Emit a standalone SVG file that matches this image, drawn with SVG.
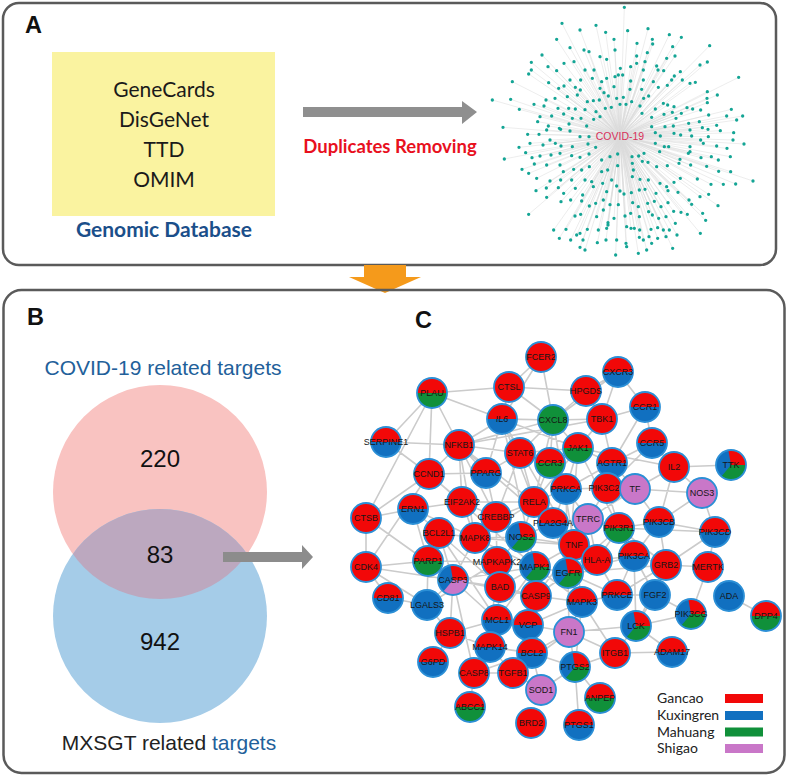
<svg xmlns="http://www.w3.org/2000/svg" xmlns:xlink="http://www.w3.org/1999/xlink" width="789" height="778" viewBox="0 0 789 778">
<style>
.frame{fill:none;stroke:#5a5a5a;stroke-width:2.5}
.lbl{font-family:"Liberation Sans",Arial,sans-serif;font-weight:bold;font-size:23.5px;fill:#111}
.db{font-family:Lato,"Open Sans",sans-serif;font-size:21px;fill:#1a1a1a;text-anchor:middle}
.edge{stroke:#cbcbcb;stroke-width:1.6;fill:none}
.bd{fill:none;stroke:#2b8fd6;stroke-width:1.8}
.node text{font-family:"Liberation Sans",Arial,sans-serif;font-size:9px;fill:#161616;text-anchor:middle}
.venn{font-family:"Liberation Sans",Arial,sans-serif;text-anchor:middle}
.leg{font-family:Lato,"Open Sans",sans-serif;font-size:14px;fill:#222}
.R{fill:#f20808}.B{fill:#1170c0}.G{fill:#10903a}.P{fill:#c977c8}
</style>
<defs>
<g id="r"><circle r="15" class="R"/><circle r="15" class="bd"/></g>
<g id="b"><circle r="15" class="B"/><circle r="15" class="bd"/></g>
<g id="g"><circle r="15" class="G"/><circle r="15" class="bd"/></g>
<g id="p"><circle r="15" class="P"/><circle r="15" class="bd"/></g>
<g id="rb"><circle r="15" class="B"/><path d="M-15 0A15 15 0 0 1 15 0Z" class="R"/><circle r="15" class="bd"/></g>
<g id="rg"><circle r="15" class="G"/><path d="M-15 0A15 15 0 0 1 15 0Z" class="R"/><circle r="15" class="bd"/></g>
<g id="brg"><circle r="15" class="B"/><path d="M0 0L15 0A15 15 0 0 0 -2.6 -14.77Z" class="R"/><path d="M0 0L15 0A15 15 0 0 1 -9.64 11.49Z" class="G"/><circle r="15" class="bd"/></g>
<g id="brp"><circle r="15" class="B"/><path d="M0 0L15 0A15 15 0 0 0 -2.6 -14.77Z" class="R"/><path d="M0 0L15 0A15 15 0 0 1 -9.64 11.49Z" class="P"/><circle r="15" class="bd"/></g>
<clipPath id="blueClip"><circle cx="160" cy="616" r="107"/></clipPath>
</defs>
<rect width="789" height="778" fill="#fff"/>

<!-- Panel A -->
<g id="panelA">
<rect class="frame" x="3" y="3" width="773" height="262" rx="16"/>
<text class="lbl" x="25" y="33">A</text>
<g id="genomicDatabase">
<rect x="52" y="52" width="223" height="164" fill="#faf3a0"/>
<text class="db" x="164" y="97">GeneCards</text>
<text class="db" x="164" y="127">DisGeNet</text>
<text class="db" x="164" y="157">TTD</text>
<text class="db" x="164" y="187">OMIM</text>
<text class="db" x="164" y="237" style="font-weight:bold;fill:#1b4f8a">Genomic Database</text>
</g>
<g id="arrowA">
<polygon points="303,107 462,107 462,101 477,112 462,124 462,117 303,117" fill="#8f8f8f"/>
<text x="390" y="153" style="font-family:Lato,'Open Sans',sans-serif;font-weight:bold;font-size:18.5px;fill:#e8101e;text-anchor:middle">Duplicates Removing</text>
</g>
<g id="covidNetwork">
<g transform="translate(470 0) scale(0.33333)">
<path fill="none" stroke="#dadada" stroke-width="1.5" d="M450 409L463 22M450 409L276 70M450 409L378 76M450 409L534 86M450 409L330 90M450 409L407 97M450 409L473 92M450 409L598 104M450 409L634 112M450 409L260 118M450 409L432 118M450 409L547 118M450 409L719 137M450 409L501 130M450 409L342 150M450 409L357 155M450 409L300 143M450 409L435 150M450 409L548 132M450 409L608 140M450 409L216 165M450 409L184 187M450 409L282 190M450 409L312 185M450 409L390 170M450 409L410 178M450 409L500 168M450 409L532 158M450 409L525 185M450 409L560 198M450 409L590 175M450 409L615 168M450 409L690 195M450 409L712 186M450 409L184 210M450 409L176 222M450 409L234 200M450 409L260 212M450 409L345 210M450 409L372 210M450 409L451 205M450 409L482 200M450 409L500 190M450 409L520 210M450 409L564 210M450 409L581 212M450 409L631 215M450 409L127 245M450 409L236 248M450 409L300 240M450 409L332 240M450 409L367 235M450 409L395 245M450 409L410 235M450 409L435 230M450 409L445 225M450 409L458 225M450 409L482 243M450 409L520 240M450 409L550 245M450 409L605 240M450 409L613 228M450 409L637 240M450 409L660 250M450 409L676 247M450 409L806 232M450 409L266 265M450 409L282 258M450 409L316 262M450 409L331 270M450 409L390 265M450 409L402 278M450 409L432 260M450 409L480 268M450 409L515 268M450 409L565 262M450 409L592 256M450 409L712 275M450 409L742 285M450 409L67 300M450 409L122 298M450 409L192 313M450 409L228 300M450 409L255 295M450 409L292 290M450 409L322 285M450 409L352 305M450 409L370 302M450 409L388 300M450 409L415 288M450 409L440 295M450 409L460 292M450 409L485 305M450 409L521 295M450 409L536 288M450 409L580 310M450 409L593 315M450 409L612 320M450 409L651 323M450 409L668 327M450 409L692 330M450 409L711 295M450 409L712 308M450 409L148 328M450 409L222 318M450 409L264 325M450 409L296 325M450 409L316 327M450 409L345 329M450 409L378 335M450 409L406 325M450 409L424 322M450 409L450 313M450 409L468 313M450 409L510 318M450 409L556 327M450 409L607 337M450 409L784 328M450 409L818 348M450 409L99 382M450 409L210 350M450 409L245 348M450 409L281 342M450 409L307 355M450 409L333 355M450 409L371 358M450 409L390 350M450 409L516 340M450 409L545 352M450 409L582 343M450 409L618 355M450 409L634 340M450 409L656 370M450 409L688 365M450 409L716 345M450 409L770 348M450 409L203 365M450 409L235 378M450 409L268 385M450 409L297 372M450 409L350 378M450 409L545 380M450 409L585 380M450 409L610 378M450 409L632 405M450 409L660 390M450 409L697 383M450 409L714 388M450 409L740 376M450 409L800 360M450 409L173 403M450 409L207 403M450 409L230 390M450 409L272 388M450 409L300 393M450 409L330 410M450 409L357 410M450 409L556 398M450 409L571 408M450 409L612 400M450 409L665 408M450 409L692 420M450 409L715 410M450 409L751 392M450 409L791 398M450 409L789 420M450 409L822 432M450 409L147 442M450 409L180 430M450 409L219 435M450 409L240 420M450 409L256 430M450 409L273 438M450 409L307 440M450 409L354 432M450 409L377 442M450 409L556 430M450 409L583 440M450 409L660 440M450 409L660 455M450 409L700 430M450 409L740 438M450 409L771 445M450 409L103 477M450 409L167 458M450 409L186 473M450 409L210 468M450 409L243 465M450 409L270 460M450 409L305 467M450 409L330 472M450 409L357 462M450 409L395 480M450 409L420 470M450 409L443 462M450 409L486 470M450 409L506 468M450 409L522 460M450 409L569 455M450 409L596 440M450 409L630 478M450 409L655 460M450 409L693 473M450 409L724 470M450 409L745 480M450 409L781 470M450 409L156 508M450 409L193 492M450 409L230 495M450 409L270 495M450 409L280 515M450 409L311 508M450 409L335 510M450 409L358 500M450 409L395 515M450 409L413 510M450 409L443 497M450 409L487 490M450 409L490 510M450 409L517 484M450 409L534 487M450 409L560 500M450 409L592 497M450 409L627 490M450 409L662 495M450 409L710 499M450 409L746 514M450 409L782 515M450 409L176 520M450 409L200 535M450 409L240 543M450 409L272 540M450 409L305 540M450 409L345 540M450 409L365 545M450 409L398 550M450 409L425 540M450 409L440 558M450 409L487 530M450 409L510 538M450 409L535 540M450 409L570 550M450 409L590 560M450 409L612 547M450 409L631 535M450 409L682 537M450 409L723 553M450 409L760 553M450 409L797 552M450 409L849 543M450 409L198 572M450 409L229 564M450 409L265 563M450 409L281 580M450 409L316 565M450 409L338 585M450 409L370 560M450 409L410 575M450 409L450 573M450 409L462 582M450 409L484 578M450 409L508 570M450 409L525 568M450 409L558 580M450 409L594 572M450 409L624 577M450 409L657 600M450 409L665 613M450 409L690 590M450 409L716 583M450 409L744 617M450 409L176 643M450 409L230 592M450 409L273 605M450 409L302 600M450 409L335 603M450 409L358 618M450 409L377 610M450 409L400 600M450 409L400 630M450 409L420 614M450 409L445 614M450 409L488 608M450 409L505 620M450 409L533 610M450 409L553 604M450 409L573 620M450 409L594 608M450 409L611 634M450 409L633 637M450 409L652 643M450 409L698 640M450 409L707 661M450 409L315 648M450 409L332 643M450 409L380 650M450 409L414 668M450 409L432 655M450 409L465 648M450 409L482 640M450 409L508 650M450 409L536 635M450 409L547 645M450 409L566 655M450 409L588 650M450 409L616 670M450 409L251 690M450 409L288 688M450 409L330 700M450 409L352 688M450 409L385 690M450 409L410 685M450 409L414 675M450 409L470 680M450 409L483 685M450 409L493 685M450 409L509 690M450 409L543 688M450 409L563 683M450 409L580 690M450 409L598 690M450 409L621 705M450 409L691 700M450 409L268 715M450 409L302 720M450 409L320 705M450 409L339 720M450 409L382 728M450 409L408 720M450 409L440 720M450 409L468 730M450 409L508 712M450 409L520 720M450 409L537 710M450 409L563 715M450 409L588 710M450 409L330 742M450 409L345 750M450 409L437 765M450 409L470 740M450 409L505 760M450 409L530 750M450 409L545 730M450 409L608 745"/>
<path fill="none" stroke="#14a595" stroke-width="10" stroke-linecap="round" d="M463 22h0M276 70h0M378 76h0M534 86h0M330 90h0M407 97h0M473 92h0M598 104h0M634 112h0M260 118h0M432 118h0M547 118h0M719 137h0M501 130h0M342 150h0M357 155h0M300 143h0M435 150h0M548 132h0M608 140h0M216 165h0M184 187h0M282 190h0M312 185h0M390 170h0M410 178h0M500 168h0M532 158h0M525 185h0M560 198h0M590 175h0M615 168h0M690 195h0M712 186h0M184 210h0M176 222h0M234 200h0M260 212h0M345 210h0M372 210h0M451 205h0M482 200h0M500 190h0M520 210h0M564 210h0M581 212h0M631 215h0M127 245h0M236 248h0M300 240h0M332 240h0M367 235h0M395 245h0M410 235h0M435 230h0M445 225h0M458 225h0M482 243h0M520 240h0M550 245h0M605 240h0M613 228h0M637 240h0M660 250h0M676 247h0M806 232h0M266 265h0M282 258h0M316 262h0M331 270h0M390 265h0M402 278h0M432 260h0M480 268h0M515 268h0M565 262h0M592 256h0M712 275h0M742 285h0M67 300h0M122 298h0M192 313h0M228 300h0M255 295h0M292 290h0M322 285h0M352 305h0M370 302h0M388 300h0M415 288h0M440 295h0M460 292h0M485 305h0M521 295h0M536 288h0M580 310h0M593 315h0M612 320h0M651 323h0M668 327h0M692 330h0M711 295h0M712 308h0M148 328h0M222 318h0M264 325h0M296 325h0M316 327h0M345 329h0M378 335h0M406 325h0M424 322h0M450 313h0M468 313h0M510 318h0M556 327h0M607 337h0M784 328h0M818 348h0M99 382h0M210 350h0M245 348h0M281 342h0M307 355h0M333 355h0M371 358h0M390 350h0M516 340h0M545 352h0M582 343h0M618 355h0M634 340h0M656 370h0M688 365h0M716 345h0M770 348h0M203 365h0M235 378h0M268 385h0M297 372h0M350 378h0M545 380h0M585 380h0M610 378h0M632 405h0M660 390h0M697 383h0M714 388h0M740 376h0M800 360h0M173 403h0M207 403h0M230 390h0M272 388h0M300 393h0M330 410h0M357 410h0M556 398h0M571 408h0M612 400h0M665 408h0M692 420h0M715 410h0M751 392h0M791 398h0M789 420h0M822 432h0M147 442h0M180 430h0M219 435h0M240 420h0M256 430h0M273 438h0M307 440h0M354 432h0M377 442h0M556 430h0M583 440h0M660 440h0M660 455h0M700 430h0M740 438h0M771 445h0M103 477h0M167 458h0M186 473h0M210 468h0M243 465h0M270 460h0M305 467h0M330 472h0M357 462h0M395 480h0M420 470h0M443 462h0M486 470h0M506 468h0M522 460h0M569 455h0M596 440h0M630 478h0M655 460h0M693 473h0M724 470h0M745 480h0M781 470h0M156 508h0M193 492h0M230 495h0M270 495h0M280 515h0M311 508h0M335 510h0M358 500h0M395 515h0M413 510h0M443 497h0M487 490h0M490 510h0M517 484h0M534 487h0M560 500h0M592 497h0M627 490h0M662 495h0M710 499h0M746 514h0M782 515h0M176 520h0M200 535h0M240 543h0M272 540h0M305 540h0M345 540h0M365 545h0M398 550h0M425 540h0M440 558h0M487 530h0M510 538h0M535 540h0M570 550h0M590 560h0M612 547h0M631 535h0M682 537h0M723 553h0M760 553h0M797 552h0M849 543h0M198 572h0M229 564h0M265 563h0M281 580h0M316 565h0M338 585h0M370 560h0M410 575h0M450 573h0M462 582h0M484 578h0M508 570h0M525 568h0M558 580h0M594 572h0M624 577h0M657 600h0M665 613h0M690 590h0M716 583h0M744 617h0M176 643h0M230 592h0M273 605h0M302 600h0M335 603h0M358 618h0M377 610h0M400 600h0M400 630h0M420 614h0M445 614h0M488 608h0M505 620h0M533 610h0M553 604h0M573 620h0M594 608h0M611 634h0M633 637h0M652 643h0M698 640h0M707 661h0M315 648h0M332 643h0M380 650h0M414 668h0M432 655h0M465 648h0M482 640h0M508 650h0M536 635h0M547 645h0M566 655h0M588 650h0M616 670h0M251 690h0M288 688h0M330 700h0M352 688h0M385 690h0M410 685h0M414 675h0M470 680h0M483 685h0M493 685h0M509 690h0M543 688h0M563 683h0M580 690h0M598 690h0M621 705h0M691 700h0M268 715h0M302 720h0M320 705h0M339 720h0M382 728h0M408 720h0M440 720h0M468 730h0M508 712h0M520 720h0M537 710h0M563 715h0M588 710h0M330 742h0M345 750h0M437 765h0M470 740h0M505 760h0M530 750h0M545 730h0M608 745h0"/>
</g>
<text x="620" y="140" style="font-family:'Liberation Sans',Arial,sans-serif;font-size:10.5px;fill:#d8305a;text-anchor:middle">COVID-19</text>
</g>
</g>

<!-- Orange connector between panels -->
<polygon id="arrowAB" points="364,265 406,265 406,277 421,277 385,293 349,277 364,277" fill="#f59a1b"/>

<!-- Panel B and C frame -->
<rect class="frame" x="3.5" y="290" width="781" height="483" rx="18"/>

<!-- Panel B -->
<g id="panelB">
<text class="lbl" x="27" y="325">B</text>
<text class="venn" x="163" y="375" style="font-size:21px;fill:#22609a">COVID-19 related targets</text>
<g id="vennCovid"><circle cx="160" cy="492" r="107" fill="#f9c3c1"/></g>
<g id="vennMxsgt"><circle cx="160" cy="616" r="107" fill="#a5cce8"/>
<circle cx="160" cy="492" r="107" fill="#bca8bf" clip-path="url(#blueClip)"/></g>
<text class="venn" x="160" y="467" style="font-size:24px;fill:#111">220</text>
<text class="venn" x="160" y="563" style="font-size:24px;fill:#111">83</text>
<text class="venn" x="160" y="650" style="font-size:24px;fill:#111">942</text>
<text class="venn" x="169" y="750" style="font-size:21px;fill:#222">MXSGT related <tspan fill="#22609a">targets</tspan></text>
<polygon id="arrowBC" points="223,552 302,552 302,545 313,557 302,569 302,562 223,562" fill="#8c8c8c"/>
</g>

<!-- Panel C -->
<g id="panelC">
<text class="lbl" x="415" y="328">C</text>
<g id="connectors">
<path class="edge" d="M432 393L459 445M432 393L386 442M432 393L429 474M432 393L509 387M432 393L366 518M432 393L502 419M386 442L429 474M386 442L459 445M459 445L534 502M459 445L502 419M459 445L574 545M459 445L486 473M459 445L520 453M459 445L462 502M459 445L429 474M459 445L475 538M459 445L496 517M459 445L602 419M459 445L553 420M429 474L366 567M429 474L486 473M429 474L462 502M429 474L535 567M429 474L366 518M541 357L509 387M541 357L553 420M541 357L502 419M618 372L586 391M618 372L645 407M618 372L553 420M618 372L602 419M509 387L502 419M509 387L553 420M509 387L586 391M586 391L602 419M586 391L553 420M502 419L553 420M502 419L520 453M502 419L574 545M502 419L578 448M502 419L486 473M502 419L534 502M502 419L535 567M553 420L602 419M553 420L578 448M553 420L550 463M553 420L520 453M553 420L574 545M553 420L534 502M602 419L578 448M602 419L612 463M602 419L645 407M602 419L534 502M520 453L578 448M520 453L550 463M520 453L486 473M520 453L534 502M520 453L496 517M578 448L550 463M578 448L612 463M578 448L566 489M578 448L674 467M578 448L568 573M578 448L619 528M550 463L566 489M550 463L534 502M612 463L566 489M612 463L607 488M612 463L652 443M612 463L635 489M645 407L652 443M652 443L674 467M652 443L607 488M645 407L612 463M674 467L731 465M674 467L635 489M674 467L702 493M674 467L659 522M462 502L534 502M462 502L496 517M462 502L413 509M462 502L475 538M366 518L413 509M366 518L366 567M366 518L453 580M413 509L439 533M413 509L475 538M413 509L428 561M439 533L475 538M439 533L428 561M439 533L453 580M439 533L500 587M439 533L497 620M475 538L534 502M475 538L521 537M475 538L497 562M475 538L453 580M475 538L574 545M475 538L535 567M366 567L428 561M366 567L388 598M366 567L427 605M366 567L453 580M428 561L453 580M428 561L427 605M428 561L497 562M453 580L427 605M453 580L500 587M453 580L536 596M453 580L535 567M453 580L450 633M453 580L497 620M453 580L474 673M388 598L427 605M427 605L450 633M427 605L497 562M566 489L534 502M566 489L607 488M566 489L553 523M566 489L588 519M566 489L568 573M607 488L635 489M607 488L619 528M607 488L588 519M635 489L588 519M635 489L702 493M635 489L659 522M534 502L496 517M534 502L553 523M534 502L521 537M534 502L574 545M496 517L521 537M496 517L497 562M496 517L486 473M553 523L574 545M553 523L521 537M553 523L588 519M553 523L568 573M588 519L619 528M588 519L574 545M588 519L597 560M619 528L659 522M619 528L634 556M619 528L597 560M619 528L666 565M619 528L568 573M619 528L715 532M521 537L574 545M521 537L535 567M521 537L497 562M574 545L568 573M574 545L597 560M574 545L535 567M574 545L582 602M574 545L536 596M497 562L535 567M497 562L500 587M497 562L490 647M535 567L568 573M535 567L500 587M535 567L536 596M535 567L582 602M535 567L497 620M535 567L528 625M568 573L597 560M568 573L582 602M568 573L617 595M568 573L634 556M568 573L666 565M568 573L569 632M568 573L536 596M597 560L634 556M597 560L617 595M634 556L666 565M634 556L659 522M634 556L617 595M634 556L655 595M634 556L636 626M500 587L536 596M500 587L497 620M536 596L582 602M536 596L528 625M582 602L617 595M582 602L569 632M582 602L528 625M582 602L575 667M582 602L615 653M617 595L655 595M617 595L666 565M497 620L490 647M497 620L528 625M497 620L450 633M702 493L715 532M702 493L659 522M659 522L715 532M659 522L666 565M715 532L708 567M715 532L666 565M666 565L708 567M666 565L655 595M666 565L636 626M708 567L691 614M655 595L636 626M655 595L691 614M729 596L766 616M691 614L636 626M636 626L672 652M636 626L615 653M636 626L569 632M672 652L615 653M450 633L490 647M450 633L433 662M490 647L474 673M490 647L513 673M490 647L532 653M474 673L532 653M474 673L513 673M474 673L470 707M528 625L532 653M528 625L569 632M569 632L532 653M569 632L575 667M569 632L615 653M569 632L513 673M532 653L513 673M532 653L541 690M532 653L575 667M615 653L575 667M575 667L600 698M575 667L579 725M575 667L541 690M513 673L541 690"/>
</g>
<g id="nodes">
<g id="n-PLAU" class="node" transform="translate(432 393)"><use xlink:href="#rg"/><text y="3">PLAU</text></g>
<g id="n-SERPINE1" class="node" transform="translate(386 442)"><use xlink:href="#rb"/><text y="3">SERPINE1</text></g>
<g id="n-NFKB1" class="node" transform="translate(459 445)"><use xlink:href="#r"/><text y="3">NFKB1</text></g>
<g id="n-CCND1" class="node" transform="translate(429 474)"><use xlink:href="#r"/><text y="3">CCND1</text></g>
<g id="n-PPARG" class="node" transform="translate(486 473)"><use xlink:href="#rb"/><text y="3">PPARG</text></g>
<g id="n-FCER2" class="node" transform="translate(541 357)"><use xlink:href="#r"/><text y="3">FCER2</text></g>
<g id="n-CXCR3" class="node" transform="translate(618 372)"><use xlink:href="#rb"/><text y="3">CXCR3</text></g>
<g id="n-CTSL" class="node" transform="translate(509 387)"><use xlink:href="#r"/><text y="3">CTSL</text></g>
<g id="n-HPGDS" class="node" transform="translate(586 391)"><use xlink:href="#r"/><text y="3">HPGDS</text></g>
<g id="n-IL6" class="node" transform="translate(502 419)"><use xlink:href="#rb"/><text y="3">IL6</text></g>
<g id="n-CXCL8" class="node" transform="translate(553 420)"><use xlink:href="#g"/><text y="3">CXCL8</text></g>
<g id="n-TBK1" class="node" transform="translate(602 419)"><use xlink:href="#r"/><text y="3">TBK1</text></g>
<g id="n-STAT6" class="node" transform="translate(520 453)"><use xlink:href="#r"/><text y="3">STAT6</text></g>
<g id="n-JAK1" class="node" transform="translate(578 448)"><use xlink:href="#rg"/><text y="3">JAK1</text></g>
<g id="n-CCR3" class="node" transform="translate(550 463)"><use xlink:href="#rg"/><text y="3">CCR3</text></g>
<g id="n-AGTR1" class="node" transform="translate(612 463)"><use xlink:href="#rb"/><text y="3">AGTR1</text></g>
<g id="n-CCR1" class="node" transform="translate(645 407)"><use xlink:href="#rb"/><text y="3">CCR1</text></g>
<g id="n-CCR5" class="node" transform="translate(652 443)"><use xlink:href="#rb"/><text y="3">CCR5</text></g>
<g id="n-IL2" class="node" transform="translate(674 467)"><use xlink:href="#r"/><text y="3">IL2</text></g>
<g id="n-TTK" class="node" transform="translate(731 465)"><use xlink:href="#brg"/><text y="3">TTK</text></g>
<g id="n-EIF2AK2" class="node" transform="translate(462 502)"><use xlink:href="#r"/><text y="3">EIF2AK2</text></g>
<g id="n-CTSB" class="node" transform="translate(366 518)"><use xlink:href="#r"/><text y="3">CTSB</text></g>
<g id="n-ERN1" class="node" transform="translate(413 509)"><use xlink:href="#rb"/><text y="3">ERN1</text></g>
<g id="n-BCL2L1" class="node" transform="translate(439 533)"><use xlink:href="#r"/><text y="3">BCL2L1</text></g>
<g id="n-MAPK8" class="node" transform="translate(475 538)"><use xlink:href="#r"/><text y="3">MAPK8</text></g>
<g id="n-CDK4" class="node" transform="translate(366 567)"><use xlink:href="#r"/><text y="3">CDK4</text></g>
<g id="n-PARP1" class="node" transform="translate(428 561)"><use xlink:href="#rg"/><text y="3">PARP1</text></g>
<g id="n-CASP3" class="node" transform="translate(453 580)"><use xlink:href="#brp"/><text y="3">CASP3</text></g>
<g id="n-CD81" class="node" transform="translate(388 598)"><use xlink:href="#rb"/><text y="3">CD81</text></g>
<g id="n-LGALS3" class="node" transform="translate(427 605)"><use xlink:href="#b"/><text y="3">LGALS3</text></g>
<g id="n-PRKCA" class="node" transform="translate(566 489)"><use xlink:href="#rb"/><text y="3">PRKCA</text></g>
<g id="n-PIK3C2A" class="node" transform="translate(607 488)"><use xlink:href="#r"/><text y="3">PIK3C2A</text></g>
<g id="n-TF" class="node" transform="translate(635 489)"><use xlink:href="#p"/><text y="3">TF</text></g>
<g id="n-RELA" class="node" transform="translate(534 502)"><use xlink:href="#r"/><text y="3">RELA</text></g>
<g id="n-CREBBP" class="node" transform="translate(496 517)"><use xlink:href="#r"/><text y="3">CREBBP</text></g>
<g id="n-PLA2G4A" class="node" transform="translate(553 523)"><use xlink:href="#rb"/><text y="3">PLA2G4A</text></g>
<g id="n-TFRC" class="node" transform="translate(588 519)"><use xlink:href="#p"/><text y="3">TFRC</text></g>
<g id="n-PIK3R1" class="node" transform="translate(619 528)"><use xlink:href="#rg"/><text y="3">PIK3R1</text></g>
<g id="n-NOS2" class="node" transform="translate(521 537)"><use xlink:href="#brg"/><text y="3">NOS2</text></g>
<g id="n-TNF" class="node" transform="translate(574 545)"><use xlink:href="#r"/><text y="3">TNF</text></g>
<g id="n-MAPKAPK2" class="node" transform="translate(497 562)"><use xlink:href="#r"/><text y="3">MAPKAPK2</text></g>
<g id="n-MAPK1" class="node" transform="translate(535 567)"><use xlink:href="#brg"/><text y="3">MAPK1</text></g>
<g id="n-EGFR" class="node" transform="translate(568 573)"><use xlink:href="#brg"/><text y="3">EGFR</text></g>
<g id="n-HLA-A" class="node" transform="translate(597 560)"><use xlink:href="#r"/><text y="3">HLA-A</text></g>
<g id="n-PIK3CA" class="node" transform="translate(634 556)"><use xlink:href="#rb"/><text y="3">PIK3CA</text></g>
<g id="n-BAD" class="node" transform="translate(500 587)"><use xlink:href="#r"/><text y="3">BAD</text></g>
<g id="n-CASP9" class="node" transform="translate(536 596)"><use xlink:href="#r"/><text y="3">CASP9</text></g>
<g id="n-MAPK3" class="node" transform="translate(582 602)"><use xlink:href="#rb"/><text y="3">MAPK3</text></g>
<g id="n-PRKCE" class="node" transform="translate(617 595)"><use xlink:href="#rb"/><text y="3">PRKCE</text></g>
<g id="n-MCL1" class="node" transform="translate(497 620)"><use xlink:href="#rb"/><text y="3">MCL1</text></g>
<g id="n-NOS3" class="node" transform="translate(702 493)"><use xlink:href="#p"/><text y="3">NOS3</text></g>
<g id="n-PIK3CB" class="node" transform="translate(659 522)"><use xlink:href="#rb"/><text y="3">PIK3CB</text></g>
<g id="n-PIK3CD" class="node" transform="translate(715 532)"><use xlink:href="#rb"/><text y="3">PIK3CD</text></g>
<g id="n-GRB2" class="node" transform="translate(666 565)"><use xlink:href="#r"/><text y="3">GRB2</text></g>
<g id="n-MERTK" class="node" transform="translate(708 567)"><use xlink:href="#r"/><text y="3">MERTK</text></g>
<g id="n-FGF2" class="node" transform="translate(655 595)"><use xlink:href="#b"/><text y="3">FGF2</text></g>
<g id="n-ADA" class="node" transform="translate(729 596)"><use xlink:href="#b"/><text y="3">ADA</text></g>
<g id="n-PIK3CG" class="node" transform="translate(691 614)"><use xlink:href="#brg"/><text y="3">PIK3CG</text></g>
<g id="n-DPP4" class="node" transform="translate(766 616)"><use xlink:href="#rg"/><text y="3">DPP4</text></g>
<g id="n-LCK" class="node" transform="translate(636 626)"><use xlink:href="#brg"/><text y="3">LCK</text></g>
<g id="n-ADAM17" class="node" transform="translate(672 652)"><use xlink:href="#rb"/><text y="3">ADAM17</text></g>
<g id="n-HSPB1" class="node" transform="translate(450 633)"><use xlink:href="#r"/><text y="3">HSPB1</text></g>
<g id="n-MAPK14" class="node" transform="translate(490 647)"><use xlink:href="#rb"/><text y="3">MAPK14</text></g>
<g id="n-G6PD" class="node" transform="translate(433 662)"><use xlink:href="#rb"/><text y="3">G6PD</text></g>
<g id="n-CASP8" class="node" transform="translate(474 673)"><use xlink:href="#r"/><text y="3">CASP8</text></g>
<g id="n-ABCC1" class="node" transform="translate(470 707)"><use xlink:href="#rg"/><text y="3">ABCC1</text></g>
<g id="n-VCP" class="node" transform="translate(528 625)"><use xlink:href="#rb"/><text y="3">VCP</text></g>
<g id="n-FN1" class="node" transform="translate(569 632)"><use xlink:href="#p"/><text y="3">FN1</text></g>
<g id="n-BCL2" class="node" transform="translate(532 653)"><use xlink:href="#rb"/><text y="3">BCL2</text></g>
<g id="n-ITGB1" class="node" transform="translate(615 653)"><use xlink:href="#r"/><text y="3">ITGB1</text></g>
<g id="n-PTGS2" class="node" transform="translate(575 667)"><use xlink:href="#brg"/><text y="3">PTGS2</text></g>
<g id="n-TGFB1" class="node" transform="translate(513 673)"><use xlink:href="#r"/><text y="3">TGFB1</text></g>
<g id="n-SOD1" class="node" transform="translate(541 690)"><use xlink:href="#p"/><text y="3">SOD1</text></g>
<g id="n-ANPEP" class="node" transform="translate(600 698)"><use xlink:href="#rg"/><text y="3">ANPEP</text></g>
<g id="n-BRD2" class="node" transform="translate(531 723)"><use xlink:href="#r"/><text y="3">BRD2</text></g>
<g id="n-PTGS1" class="node" transform="translate(579 725)"><use xlink:href="#rb"/><text y="3">PTGS1</text></g>
</g>
<g id="legend">
<text class="leg" x="657" y="703">Gancao</text><rect x="725" y="694" width="38" height="9" class="R"/>
<text class="leg" x="657" y="720">Kuxingren</text><rect x="725" y="711" width="38" height="9" class="B"/>
<text class="leg" x="657" y="736.5">Mahuang</text><rect x="725" y="727.5" width="38" height="9" class="G"/>
<text class="leg" x="657" y="753">Shigao</text><rect x="725" y="744" width="38" height="9" class="P"/>
</g>
</g>
</svg>
